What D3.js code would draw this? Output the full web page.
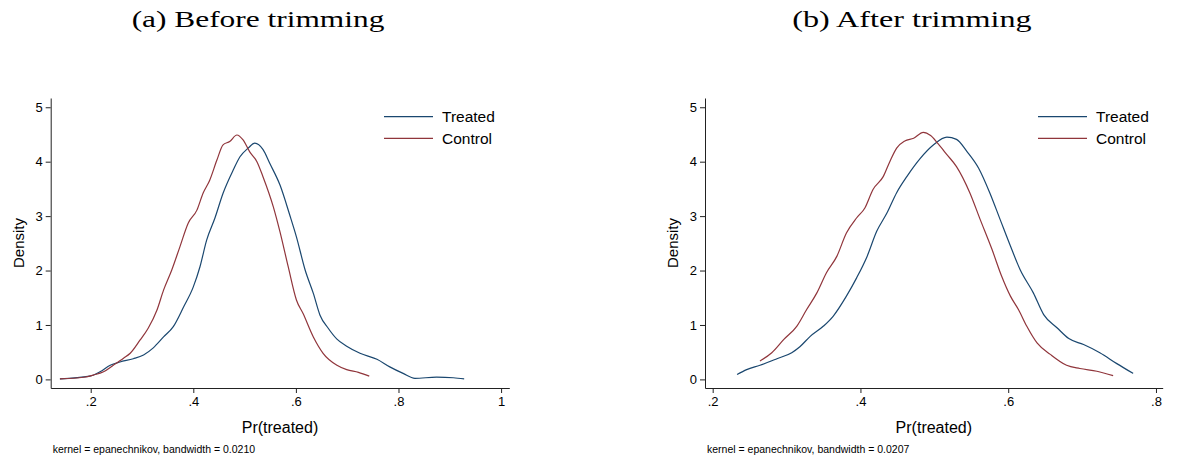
<!DOCTYPE html>
<html>
<head>
<meta charset="utf-8">
<script src="https://cdn.jsdelivr.net/npm/d3@7/dist/d3.min.js"></script>
<style>
  body { margin: 0; background: #fff; }
  svg text { font-family: "Liberation Sans", Arial, sans-serif; fill: #000; }
</style>
</head>
<body>
<svg id="chart" width="1177" height="465"></svg>
<script>
// kernel density estimates: [Pr(treated), density]
const beforeTreated = [
  [0.140, 0.01], [0.198, 0.06], [0.218, 0.14], [0.238, 0.26], [0.257, 0.32], [0.283, 0.38],
  [0.303, 0.45], [0.322, 0.58], [0.342, 0.78], [0.361, 0.97], [0.381, 1.33], [0.400, 1.70],
  [0.413, 2.07], [0.426, 2.56], [0.442, 2.96], [0.458, 3.42], [0.478, 3.85], [0.491, 4.09],
  [0.507, 4.25], [0.520, 4.34], [0.536, 4.22], [0.549, 3.97], [0.569, 3.57], [0.588, 3.02],
  [0.601, 2.62], [0.618, 2.01], [0.634, 1.58], [0.647, 1.18], [0.663, 0.94], [0.680, 0.74],
  [0.699, 0.61], [0.725, 0.48], [0.758, 0.37], [0.783, 0.23], [0.809, 0.11], [0.832, 0.02],
  [0.874, 0.04], [0.907, 0.03], [0.928, 0.01]
];
const beforeControl = [
  [0.140, 0.01], [0.186, 0.04], [0.205, 0.08], [0.225, 0.14], [0.244, 0.26], [0.264, 0.39],
  [0.277, 0.48], [0.296, 0.72], [0.312, 0.94], [0.329, 1.27], [0.342, 1.64], [0.358, 2.01],
  [0.374, 2.44], [0.390, 2.87], [0.407, 3.11], [0.419, 3.42], [0.432, 3.66], [0.446, 4.03],
  [0.458, 4.31], [0.471, 4.37], [0.485, 4.49], [0.497, 4.40], [0.510, 4.18], [0.524, 4.00],
  [0.536, 3.72], [0.556, 3.17], [0.569, 2.71], [0.585, 2.07], [0.601, 1.46], [0.614, 1.21],
  [0.634, 0.78], [0.653, 0.48], [0.680, 0.26], [0.699, 0.18], [0.722, 0.13], [0.743, 0.06]
];
const afterTreated = [
  [0.233, 0.09], [0.246, 0.18], [0.264, 0.26], [0.287, 0.38], [0.307, 0.49], [0.318, 0.60],
  [0.332, 0.79], [0.350, 0.98], [0.363, 1.16], [0.381, 1.53], [0.395, 1.87], [0.409, 2.26],
  [0.422, 2.72], [0.436, 3.06], [0.449, 3.43], [0.463, 3.73], [0.481, 4.06], [0.499, 4.31],
  [0.517, 4.45], [0.530, 4.41], [0.544, 4.19], [0.560, 3.88], [0.575, 3.43], [0.589, 2.94],
  [0.603, 2.45], [0.616, 2.02], [0.634, 1.59], [0.648, 1.19], [0.666, 0.95], [0.682, 0.75],
  [0.702, 0.64], [0.724, 0.49], [0.747, 0.29], [0.769, 0.11]
];
const afterControl = [
  [0.264, 0.34], [0.280, 0.49], [0.296, 0.73], [0.314, 0.98], [0.327, 1.28], [0.341, 1.59],
  [0.354, 1.96], [0.368, 2.26], [0.381, 2.69], [0.395, 2.97], [0.406, 3.15], [0.417, 3.49],
  [0.431, 3.73], [0.440, 4.01], [0.449, 4.25], [0.460, 4.38], [0.472, 4.43], [0.485, 4.54],
  [0.495, 4.48], [0.505, 4.33], [0.517, 4.13], [0.530, 3.91], [0.548, 3.43], [0.562, 2.94],
  [0.578, 2.39], [0.591, 1.90], [0.603, 1.53], [0.614, 1.28], [0.625, 0.98], [0.639, 0.67],
  [0.657, 0.46], [0.679, 0.26], [0.697, 0.20], [0.720, 0.15], [0.742, 0.07]
];

const titles = ["(a) Before trimming", "(b) After trimming"];
const seriesNames = ["Treated", "Control"];
const yTicks = [0, 1, 2, 3, 4, 5];
const beforeXTicks = [0.2, 0.4, 0.6, 0.8, 1];
const afterXTicks = [0.2, 0.4, 0.6, 0.8];
const notes = ["kernel = epanechnikov, bandwidth = 0.0210", "kernel = epanechnikov, bandwidth = 0.0207"];

const colors = ["#1a476f", "#90353b"];
const svg = d3.select("#chart");

const panels = [
  { title: titles[0], series: [beforeTreated, beforeControl], xTicks: beforeXTicks, note: notes[0],
    left: 50.7, right: 509.3, xDomain: [0.122, 1.016], legendX: 384, titleX: 258 },
  { title: titles[1], series: [afterTreated, afterControl], xTicks: afterXTicks, note: notes[1],
    left: 705, right: 1162.7, xDomain: [0.1896, 0.8091], legendX: 1038, titleX: 912 }
];

const plotTop = 98, plotBottom = 388;
const fmt = v => (v === 1 ? "1" : d3.format(".1f")(v).replace(/^0/, ""));

panels.forEach(p => {
  const x = d3.scaleLinear().domain(p.xDomain).range([p.left, p.right]);
  const y = d3.scaleLinear().domain([-0.158, 5.17]).range([plotBottom, plotTop]);
  const g = svg.append("g");

  g.append("text")
    .attr("x", p.titleX)
    .attr("y", 27)
    .attr("text-anchor", "middle")
    .attr("textLength", p.title.length * 13.3)
    .attr("lengthAdjust", "spacingAndGlyphs")
    .style("font-family", "'Liberation Serif', serif")
    .style("font-size", "24px")
    .text(p.title);

  const yAxis = g.append("g")
    .attr("transform", `translate(${p.left},0)`)
    .call(d3.axisLeft(y).tickValues(yTicks).tickFormat(d3.format("d")).tickSizeInner(5).tickSizeOuter(0).tickPadding(3));
  const xAxis = g.append("g")
    .attr("transform", `translate(0,${plotBottom})`)
    .call(d3.axisBottom(x).tickValues(p.xTicks).tickFormat(fmt).tickSizeInner(5).tickSizeOuter(0).tickPadding(4));
  [yAxis, xAxis].forEach(a => {
    a.selectAll("path, line").attr("stroke", "#222").attr("stroke-width", 1);
    a.selectAll("text").style("font-size", "13px").style("font-family", "'Liberation Sans', Arial, sans-serif").attr("fill", "#000");
  });

  const line = d3.line()
    .x(d => x(d[0]))
    .y(d => y(d[1]))
    .curve(d3.curveMonotoneX);

  p.series.forEach((s, i) => {
    g.append("path")
      .datum(s)
      .attr("fill", "none")
      .attr("stroke", colors[i])
      .attr("stroke-width", 1.2)
      .attr("d", line);
  });

  // legend
  seriesNames.forEach((name, i) => {
    const ly = 116.7 + i * 21.6;
    g.append("line")
      .attr("x1", p.legendX).attr("x2", p.legendX + 49)
      .attr("y1", ly).attr("y2", ly)
      .attr("stroke", colors[i]).attr("stroke-width", 1.2);
    g.append("text")
      .attr("x", p.legendX + 58)
      .attr("y", ly + 5.5)
      .style("font-size", "15.5px")
      .text(name);
  });

  g.append("text")
    .attr("transform", `translate(${p.left - 27},${(plotTop + plotBottom) / 2}) rotate(-90)`)
    .attr("text-anchor", "middle")
    .style("font-size", "15px")
    .text("Density");

  g.append("text")
    .attr("x", (p.left + p.right) / 2)
    .attr("y", 433)
    .attr("text-anchor", "middle")
    .style("font-size", "16px")
    .text("Pr(treated)");

  g.append("text")
    .attr("x", p.left + 2)
    .attr("y", 453)
    .style("font-size", "10.5px")
    .attr("fill", "#222")
    .text(p.note);
});
</script>
</body>
</html>
